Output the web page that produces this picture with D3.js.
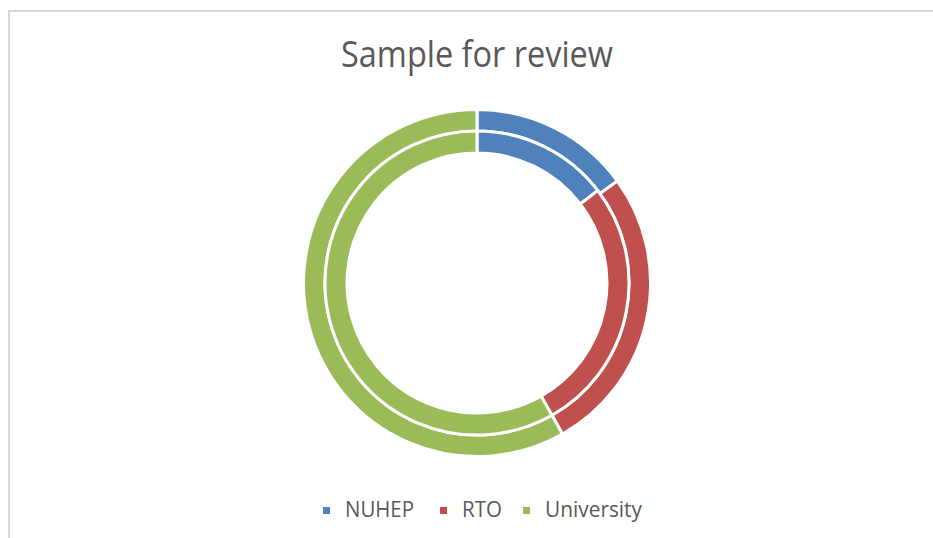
<!DOCTYPE html>
<html>
<head>
<meta charset="utf-8">
<script src="https://cdn.jsdelivr.net/npm/d3@7"></script>
<style>
  html, body { margin: 0; padding: 0; background: #fff; }
  svg { display: block; }
</style>
</head>
<body>
<div id="chart"></div>
<script>
// data
const categories = ['NUHEP', 'RTO', 'University'];
const outerValues = [15.0, 26.8, 58.2];
const innerValues = [14.6, 27.2, 58.2];
const colors = ['#4F81BD', '#C0504D', '#9BBB59'];

const width = 933, height = 538;
const cx = 477, cy = 283;

const svg = d3.select('#chart')
  .append('svg')
  .attr('width', width)
  .attr('height', height);

// chart area border (runs off the right / bottom edge)
svg.append('rect')
  .attr('x', 9)
  .attr('y', 11)
  .attr('width', 960)
  .attr('height', 560)
  .attr('fill', '#fff')
  .attr('stroke', '#d9d9d9')
  .attr('stroke-width', 2);

// title
svg.append('text')
  .attr('x', cx)
  .attr('y', 67)
  .attr('text-anchor', 'middle')
  .attr('font-family', 'Open Sans, sans-serif')
  .attr('font-size', 37)
  .attr('textLength', 272)
  .attr('lengthAdjust', 'spacingAndGlyphs')
  .attr('fill', '#595959')
  .text('Sample for review');

const pie = d3.pie().sort(null).value(d => d);

const rings = [
  {values: outerValues, inner: 152, outer: 173.5},
  {values: innerValues, inner: 130, outer: 152}
];

const g = svg.append('g')
  .attr('transform', `translate(${cx},${cy})`);

rings.forEach(r => {
  const arc = d3.arc().innerRadius(r.inner).outerRadius(r.outer);
  g.append('g')
    .selectAll('path')
    .data(pie(r.values))
    .enter()
    .append('path')
    .attr('d', arc)
    .attr('fill', (d, i) => colors[i])
    .attr('stroke', '#fff')
    .attr('stroke-width', 3);
});

// legend
const legendX = [323, 440, 523];
const textW = [69, 40, 97];
const legend = svg.append('g');
categories.forEach((c, i) => {
  legend.append('rect')
    .attr('x', legendX[i])
    .attr('y', 507)
    .attr('width', 7)
    .attr('height', 7)
    .attr('fill', colors[i]);
  legend.append('text')
    .attr('x', legendX[i] + 22)
    .attr('y', 517)
    .attr('font-family', 'Open Sans, sans-serif')
    .attr('font-size', 22)
    .attr('textLength', textW[i])
    .attr('lengthAdjust', 'spacingAndGlyphs')
    .attr('fill', '#595959')
    .text(c);
});
</script>
</body>
</html>
